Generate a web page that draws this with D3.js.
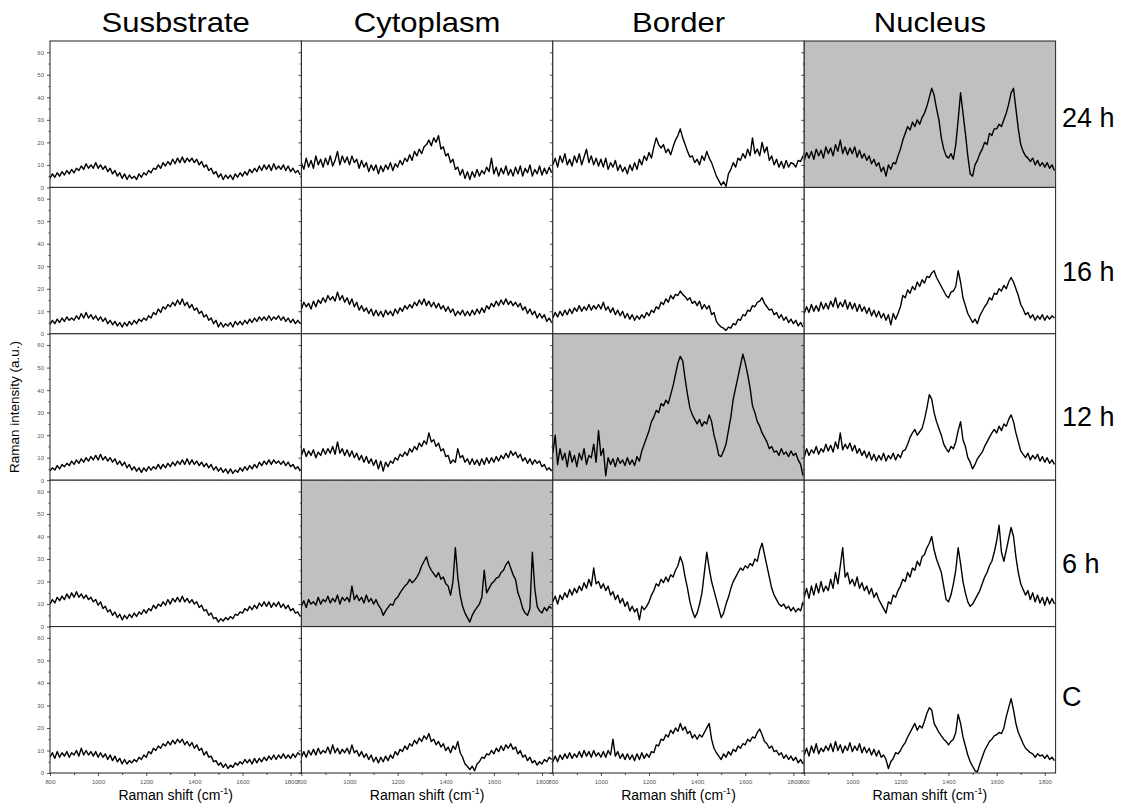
<!DOCTYPE html>
<html>
<head>
<meta charset="utf-8">
<script src="https://cdn.jsdelivr.net/npm/d3@7"></script>
<style>
  body { margin: 0; background: #fff; }
  svg { display: block; font-family: "Liberation Sans", Arial, sans-serif; }
</style>
</head>
<body>
<svg id="chart" width="1129" height="808"></svg>
<script>
// Raman spectra, sampled every 10 cm-1 from 800 to 1840 cm-1 (105 points each)
const shiftStart = 800;
const shiftStep = 10;

const columns = ["Susbstrate", "Cytoplasm", "Border", "Nucleus"];
const rows = ["24 h", "16 h", "12 h", "6 h", "C"];
const yTicks = [0, 10, 20, 30, 40, 50, 60];
const yMinorTicks = [5, 15, 25, 35, 45, 55];
const xTicks = [800, 1000, 1200, 1400, 1600, 1800];
const xMinorTicks = [900, 1100, 1300, 1500, 1700];
const highlighted = [["24 h", "Nucleus"], ["12 h", "Border"], ["6 h", "Cytoplasm"]];

// ---- 24 h ----
const substrate24 = [
  4, 6, 4.5, 6.5, 5, 7, 5.5, 7.5, 6, 8,
  6.5, 8.5, 7.5, 9.5, 8, 10.5, 8.5, 10, 8.5, 11,
  8.5, 10, 8, 9.5, 7, 8.5, 6, 7.5, 5, 6.5,
  4, 6, 3.5, 5.5, 4, 5, 3.5, 6, 4.5, 6.5,
  5.5, 7.5, 6.5, 8.5, 8, 10, 8.5, 11, 9.5, 11.5,
  10, 12.5, 10.5, 13, 11, 13.5, 11, 13, 11.5, 13,
  11, 12.5, 10, 11.5, 9, 10, 7.5, 8.5, 6, 7,
  4.5, 6, 3.5, 5.5, 4, 5.5, 3.5, 6, 4.5, 6.5,
  5, 7, 5.5, 8, 6.5, 8.5, 7, 9.5, 7.5, 10,
  8, 10, 7.5, 10.5, 8, 9.5, 8, 10, 7.5, 9.5,
  7, 8.5, 6.5, 7.5, 5.5
];
const cytoplasm24 = [
  11, 8, 13, 9, 12, 8.5, 14, 10, 12.5, 9,
  13, 10, 14, 9.5, 12, 16, 10, 14, 11, 13.5,
  10, 14, 11, 12.5, 8.5, 12, 9, 11, 7, 10,
  7.5, 10, 6, 9.5, 7, 10, 8, 11, 7.5, 10.5,
  9, 12, 10, 13, 11.5, 14.5, 12, 16, 14, 17,
  15, 18, 19, 21, 18.5, 22, 20, 23, 17, 18,
  14, 15, 11, 12.5, 8, 9, 5.5, 8, 4, 7,
  3.5, 7, 4.5, 8, 5, 7.5, 6, 9, 7, 13,
  6, 9, 5, 8.5, 6, 9.5, 5.5, 8, 5, 9,
  6, 9.5, 5, 8.5, 6.5, 10, 5, 8, 6, 9.5,
  5.5, 8.5, 6, 9, 6.5
];
const border24 = [
  10, 13, 9, 14, 11, 15, 10, 12.5, 9.5, 14,
  11, 15, 10, 13.5, 17, 11, 14, 10, 13, 9.5,
  12.5, 9, 13, 8, 11, 9, 12, 7.5, 10, 7,
  9, 6, 10, 7.5, 11, 8, 12.5, 10, 14, 12,
  15.5, 13, 18, 22, 19, 17.5, 19, 15.5, 17, 14.5,
  18, 21, 23, 26, 22, 19, 16, 13.5, 14, 11,
  12.5, 10, 14, 12, 16, 13, 11, 8, 5, 3,
  1, 2.5, 0.5, 6, 8, 11, 9, 13, 12, 15,
  13, 17, 14, 22, 15, 17, 14, 20, 15.5, 18,
  12, 14, 10, 12.5, 9, 11.5, 8.5, 12, 9, 11,
  10.5, 9, 12, 11.5, 14
];
const nucleus24 = [
  12, 15.5, 13, 16, 12.5, 17, 14, 16.5, 13, 18,
  15, 17.5, 14, 19, 16, 21, 15, 18, 14.5, 17.5,
  15, 18, 13.5, 16.5, 13, 15, 12, 14, 10.5, 12.5,
  9.5, 11, 7, 9, 5, 10, 8, 11, 10.5, 14,
  17, 21, 24, 27, 25.5, 29, 27, 30, 28, 31,
  33, 36, 40, 44, 41, 35, 30, 22, 17, 14,
  13, 15, 12.5, 19, 30, 42, 33, 24, 14, 6,
  5, 10, 12, 15, 17, 20, 19, 24, 23, 26,
  26, 28, 27, 30, 33, 37, 42, 44, 35, 26,
  19, 16, 14, 13, 11.5, 13, 10, 12, 9.5, 11,
  9, 11, 8.5, 10, 7.5
];

// ---- 16 h ----
const substrate16 = [
  4, 6, 4.5, 6.5, 5, 7, 5.5, 7.5, 6, 7,
  6, 8, 6.5, 9, 7, 9.5, 7, 8.5, 6.5, 8,
  6, 7.5, 5.5, 7, 4.5, 6, 4, 5.5, 3.5, 5,
  3, 5, 3.5, 5.5, 4, 6, 4.5, 6.5, 5.5, 7,
  6, 8, 7, 9.5, 8.5, 11, 9.5, 12, 11, 13,
  12, 14, 12.5, 15, 13, 15.5, 12.5, 14, 11.5, 13,
  10.5, 11.5, 9, 10, 7.5, 8.5, 6, 7, 4.5, 6,
  3, 5, 3, 4.5, 3.5, 5, 3, 5.5, 4, 5.5,
  4, 6, 4.5, 6.5, 5, 7, 5.5, 7.5, 6, 7.5,
  6, 8, 6, 7.5, 6.5, 8, 6, 7.5, 5.5, 7,
  5, 6.5, 4.5, 6, 4.5
];
const cytoplasm16 = [
  11, 14, 12, 13.5, 11, 14.5, 12, 15, 13.5, 16,
  14, 17, 15, 16.5, 14.5, 18.5, 15, 17, 14, 16,
  13, 15.5, 12, 14, 10.5, 12.5, 10, 11.5, 9, 11,
  8, 10.5, 8, 10, 7.5, 10.5, 8.5, 10, 8, 11,
  9, 11.5, 10, 12.5, 11, 13, 11.5, 14, 12.5, 15,
  13, 15.5, 12.5, 14.5, 12, 14, 11.5, 13.5, 11, 12.5,
  10, 12, 9.5, 11, 8, 10, 8.5, 10.5, 8, 10,
  8, 10.5, 8.5, 11, 9, 11.5, 9.5, 12.5, 11, 13.5,
  12, 14.5, 12.5, 15, 13, 15.5, 13, 14.5, 12.5, 14,
  12, 13.5, 10.5, 12, 9, 11, 8.5, 10, 7, 9,
  7, 8.5, 5.5, 7, 5
];
const border16 = [
  7, 9.5, 7.5, 10, 8, 10.5, 8.5, 11, 9, 11.5,
  10, 12.5, 10, 12, 10.5, 13, 10.5, 12.5, 11, 13,
  11, 14, 10.5, 12, 9.5, 11.5, 8.5, 10.5, 8, 10,
  7, 9, 6.5, 8.5, 6, 8, 6.5, 8.5, 7, 9.5,
  8, 10.5, 9.5, 12, 11, 14, 13, 15.5, 14, 17,
  15.5, 17.5, 17, 19, 17.5, 16.5, 15, 16, 13.5, 14.5,
  12.5, 14.5, 11, 13, 11, 12.5, 8.5, 9.5, 5.5, 4,
  3, 2.5, 1.5, 3, 2.5, 4.5, 4, 6.5, 6, 8.5,
  8, 10.5, 10, 12.5, 12, 14, 14.5, 16, 13.5, 12,
  10.5, 11, 8.5, 9.5, 7, 8.5, 6, 7.5, 5, 6.5,
  4.5, 6, 3.5, 5, 3
];
const nucleus16 = [
  9, 12, 9.5, 13, 10, 12.5, 10, 14, 11, 13.5,
  11, 14.5, 12, 16, 11.5, 14, 12, 15, 11, 14,
  11, 13.5, 10, 13, 10, 12, 9, 11.5, 8, 10.5,
  7.5, 10, 7, 9, 6, 8.5, 4, 9, 6.5, 9,
  12, 17, 16, 19.5, 18, 21, 19.5, 23, 21, 24,
  22.5, 25.5, 25, 27, 28, 25, 23, 21, 19, 17,
  16, 18.5, 19, 21, 28, 23, 16, 12.5, 9, 7,
  5, 6.5, 4.5, 8, 10, 12, 13.5, 16, 15, 18,
  17.5, 20, 19, 21.5, 20, 23, 25, 23, 20, 17,
  13, 11, 8.5, 9.5, 7, 8.5, 6, 8, 6.5, 8.5,
  6, 8, 6.5, 8, 7
];

// ---- 12 h ----
const substrate12 = [
  4, 5.5, 4.5, 6.5, 5, 7, 6, 7.5, 6.5, 8.5,
  7, 9, 7.5, 9.5, 8, 10, 8.5, 10.5, 9, 11,
  9, 11.5, 9, 10.5, 8.5, 10, 8, 9.5, 7, 8.5,
  6.5, 8, 5.5, 7, 4.5, 6, 4, 5.5, 3.5, 5.5,
  4, 6, 4.5, 6, 5, 7, 5, 7, 5.5, 7.5,
  6, 8, 6.5, 8.5, 7, 9, 7, 9.5, 7, 9,
  7, 8.5, 6.5, 8, 6, 7.5, 5.5, 7, 4.5, 6,
  4, 5.5, 3.5, 5, 3, 5, 3, 4.5, 3.5, 5.5,
  4, 6, 4.5, 6.5, 5, 7, 5.5, 8, 6.5, 8.5,
  7, 9, 7, 9, 7.5, 8.5, 7, 8.5, 6.5, 8,
  6, 7, 5, 6, 4
];
const cytoplasm12 = [
  11, 14, 10.5, 13, 11, 13.5, 10, 12.5, 11, 14,
  11.5, 14, 12, 15, 11.5, 17, 12, 14, 11, 13.5,
  10.5, 13, 10, 12, 9, 11, 8, 10.5, 7.5, 9.5,
  6.5, 9, 5, 8.5, 4, 8, 6, 8.5, 7.5, 10,
  9, 11.5, 10.5, 12.5, 11, 14, 12.5, 15, 13.5, 16.5,
  15, 17.5, 16, 21, 17, 18, 15, 16.5, 13, 14,
  10.5, 11, 7.5, 9, 8, 14, 10, 11, 8, 9.5,
  7, 9.5, 7, 9, 6.5, 9.5, 7, 10, 7.5, 10,
  8, 10.5, 8.5, 11, 9.5, 12, 10, 13, 11, 12.5,
  10, 11.5, 8.5, 10, 7.5, 9.5, 7, 9, 7.5, 8.5,
  6, 7, 4.5, 5.5, 4
];
const border12 = [
  12, 20, 7, 14, 9, 12, 6, 13, 8, 11,
  6, 12, 9, 14, 7, 11, 10, 16, 8, 22,
  11, 14, 2, 10, 7, 9.5, 6, 10, 7.5, 9,
  6.5, 10, 7, 9, 6.5, 10.5, 8.5, 13, 16, 19,
  22, 26, 28, 31, 30, 34, 33, 35.5, 34, 38,
  42, 47, 52, 55, 53, 45, 38, 32, 29, 27,
  25, 27, 24, 26, 25, 29, 26, 20, 16, 11,
  10.5, 13, 16, 22, 28, 36, 41, 46, 51, 56,
  52, 47, 41, 33, 30, 26, 24, 21, 19, 17,
  14, 15, 12.5, 13, 11, 14, 11.5, 12.5, 10.5, 13,
  11, 12, 9, 7, 2
];
const nucleus12 = [
  10, 14, 11, 13.5, 12, 15, 11.5, 14, 12.5, 16,
  13, 15.5, 12.5, 17, 14, 21, 13.5, 16, 14, 16.5,
  13, 15.5, 12, 14, 11, 13, 10, 12.5, 9, 11.5,
  8.5, 11, 9, 12, 8.5, 11, 9.5, 12, 9, 11.5,
  10, 13, 13.5, 16, 19, 21, 22.5, 20, 21.5, 23,
  27, 32, 38, 36, 30, 26, 23, 20, 16, 14,
  12.5, 15, 14, 17, 22, 26, 18, 15, 10, 8,
  5, 7, 9.5, 11, 12.5, 15, 17, 19, 21, 22.5,
  21, 24, 22, 25, 24, 27, 29, 26, 21, 17,
  13, 11.5, 10, 12, 9, 11, 9.5, 11.5, 8.5, 10.5,
  8, 10, 7.5, 9, 7
];

// ---- 6 h ----
const substrate6 = [
  10, 12, 10.5, 13, 11.5, 13.5, 12, 14.5, 12.5, 15,
  13, 15.5, 13, 14.5, 12.5, 14, 12, 13, 11, 12,
  9.5, 11, 8, 9, 6.5, 7.5, 5, 6.5, 4, 5.5,
  3, 5, 3.5, 5.5, 4, 6, 4.5, 6.5, 5.5, 7.5,
  6, 8, 7, 9.5, 8, 10, 9, 11, 9.5, 12,
  10, 12.5, 11, 13, 11, 13.5, 11, 12.5, 10.5, 12,
  10, 11, 8.5, 9.5, 7, 7.5, 5, 6, 3.5, 4,
  2, 3.5, 2.5, 4, 3, 4.5, 3.5, 5.5, 5, 6.5,
  6, 8, 7, 9, 7.5, 9.5, 8, 10.5, 9, 11,
  9, 11, 8.5, 10.5, 9, 11, 8.5, 10, 8, 9.5,
  7, 8, 6, 6.5, 4.5
];
const cytoplasm6 = [
  9, 11.5, 8.5, 12, 10, 11, 9.5, 13, 10, 12,
  11, 13.5, 10.5, 12.5, 11, 14, 10, 13, 11.5, 13,
  11, 18, 12, 14, 11.5, 13, 10.5, 14, 11, 12.5,
  10, 12, 9.5, 8, 5, 7, 8.5, 10, 9.5, 12,
  13, 15, 16.5, 18, 19, 21, 19.5, 20.5, 22, 24,
  27, 29, 31, 27, 25, 23.5, 22, 24, 21, 22,
  19, 18, 14, 20, 35, 22, 14, 9, 6, 4,
  2, 5, 7, 8.5, 10, 13, 25, 15, 17, 19,
  20, 21.5, 22, 24, 25, 27.5, 29, 26, 23, 21,
  15, 12, 8, 6, 5, 8, 33, 17, 9, 7,
  6, 8.5, 7, 9, 8
];
const border6 = [
  11, 13.5, 10, 14, 12, 15, 13, 16.5, 14, 17,
  15, 18, 16, 19.5, 17, 21, 18, 26, 19, 20,
  17, 19, 16, 18, 14, 15.5, 12, 14, 10.5, 12.5,
  9, 11, 7, 9, 6.5, 8, 3, 9, 7.5, 9,
  11, 14, 16, 19, 18, 21, 19.5, 22, 20, 23,
  22, 25, 27, 31, 28, 22, 17, 11, 7, 4,
  6, 10, 15, 24, 33, 26, 20, 16, 12, 8,
  4, 6, 10, 13, 17, 20, 22, 24, 26, 25,
  27, 26, 28, 27, 30, 29, 34, 37, 32, 27,
  22, 17, 14, 12, 10, 9, 10, 8, 9, 7,
  8.5, 6.5, 8, 7, 11
];
const nucleus6 = [
  13, 17, 12.5, 18, 14, 19, 15, 20, 15.5, 18,
  16, 21, 17, 24, 19, 27, 35, 22, 24, 19,
  21, 18, 22, 17, 19.5, 16, 18, 14.5, 17, 13,
  15, 12, 10, 8, 6, 11, 10, 14, 13, 16,
  18, 21, 20, 24, 22, 26, 25, 29, 27, 31,
  32, 35, 37, 40, 34, 30, 27, 24, 18, 12,
  11, 14, 19, 25, 35, 28, 20, 15, 11, 9,
  10, 12, 14, 16, 19, 22, 24, 27, 29, 33,
  38, 45, 33, 29, 34, 39, 44, 40, 31, 24,
  19, 16.5, 14, 16, 12, 15, 11, 14, 10.5, 13,
  9.5, 13, 10, 12.5, 10
];

// ---- Control ----
const substrateC = [
  7, 9, 6.5, 9.5, 7, 9, 7.5, 9.5, 7, 9,
  8, 10, 7.5, 11, 8, 10, 8, 9.5, 7.5, 9.5,
  7, 9, 7, 8.5, 6, 8, 5.5, 7.5, 5, 6.5,
  4, 6, 4, 5.5, 4.5, 6, 5, 7, 6, 8,
  7, 9.5, 8.5, 11, 10, 12, 11, 13, 12, 14,
  12.5, 14.5, 13, 15, 13.5, 15, 12.5, 14, 12, 13.5,
  11, 12.5, 10, 11, 8, 9.5, 7, 7.5, 5, 5.5,
  3.5, 4.5, 2.5, 4, 2, 3.5, 2.5, 4.5, 3.5, 5,
  4, 6, 4.5, 6, 4, 6.5, 4.5, 6.5, 5, 7,
  5.5, 7.5, 6, 8, 6, 8, 6.5, 8.5, 6.5, 8,
  6.5, 8.5, 7, 9, 8
];
const cytoplasmC = [
  7, 9.5, 7, 10, 8, 10.5, 8, 11, 8.5, 10,
  9, 11.5, 8.5, 12.5, 9, 11, 8.5, 10.5, 9, 11,
  8.5, 12.5, 9, 10, 7.5, 9.5, 7, 8.5, 6, 8,
  5, 7, 4.5, 7, 5, 7.5, 5.5, 8, 6.5, 9.5,
  8, 10.5, 9.5, 12, 10.5, 13, 12, 14.5, 13, 15.5,
  14, 16.5, 15, 17.5, 14, 15, 12.5, 14, 11.5, 13,
  10, 11.5, 9, 12, 10.5, 14, 9, 7, 4, 3,
  1.5, 3, 1, 4, 5, 7, 6.5, 8.5, 8, 10,
  8.5, 11, 9.5, 12, 10, 12.5, 11, 13, 10.5, 11.5,
  8.5, 10, 7, 8, 5.5, 7, 4.5, 5.5, 3.5, 5,
  4, 6, 5, 7, 6
];
const borderC = [
  5, 7.5, 5, 8, 6, 8.5, 6.5, 9, 6.5, 8.5,
  7, 9.5, 7, 10, 7.5, 9.5, 7, 10, 7.5, 9,
  7, 9.5, 7, 10, 8, 15, 7.5, 9.5, 6.5, 8.5,
  6, 8.5, 6, 8, 5.5, 8.5, 6, 9, 6.5, 8.5,
  7, 9.5, 9, 12.5, 12, 15, 14.5, 17, 16, 19,
  17.5, 20, 18.5, 22, 19, 20.5, 17.5, 18.5, 15.5, 17,
  15, 17, 16, 18, 20, 22, 15, 11, 9, 7.5,
  6, 8.5, 7, 9.5, 8, 10.5, 9.5, 12, 11, 13,
  12.5, 15, 14, 16, 15.5, 18, 19.5, 17, 14, 13,
  11, 12, 9.5, 10, 8, 9, 6.5, 8, 6, 7.5,
  5.5, 7, 4.5, 6, 4
];
const nucleusC = [
  8, 11, 7.5, 12, 9, 13, 8.5, 11, 9.5, 12,
  10, 13, 9.5, 14, 10, 12.5, 9, 12, 10, 13.5,
  9.5, 12, 10, 13, 9, 11.5, 9, 11, 8, 10.5,
  7.5, 10, 7, 8, 6, 2, 5, 6.5, 9, 8.5,
  10, 12, 13.5, 16, 18, 20, 22, 19, 21, 20,
  23, 26.5, 29, 28, 22, 20, 18, 16.5, 15, 14,
  12.5, 14, 15, 18, 26, 22, 16, 12, 8, 5,
  3, 1, 0.5, 4, 7, 10, 12, 14, 15, 16.5,
  17, 18, 17.5, 20, 25, 29, 33, 28, 22, 18,
  15.5, 13, 11, 10, 9, 8.5, 7, 8.5, 7.5, 8,
  6.5, 8, 6, 7, 5.5
];

// Grid of spectra: one row per incubation time, one column per cell region
const spectraGrid = [
  [substrate24, cytoplasm24, border24, nucleus24],
  [substrate16, cytoplasm16, border16, nucleus16],
  [substrate12, cytoplasm12, border12, nucleus12],
  [substrate6, cytoplasm6, border6, nucleus6],
  [substrateC, cytoplasmC, borderC, nucleusC]
];

// ---- Layout ----
const svg = d3.select("#chart");
const marginLeft = 50, marginTop = 41;
const panelW = 251.4, panelH = 146.4;
const xDomain = [800, 1845];
const yDomain = [0, 65];

const x = d3.scaleLinear().domain(xDomain).range([0, panelW]);
const y = d3.scaleLinear().domain(yDomain).range([panelH, 0]);

const line = d3.line()
  .x((d, i) => x(shiftStart + i * shiftStep))
  .y(d => y(d));

const isHighlighted = (r, c) =>
  highlighted.some(([rn, cn]) => rn === rows[r] && cn === columns[c]);

svg.append("defs").append("clipPath").attr("id", "panelClip")
  .append("rect").attr("width", panelW).attr("height", panelH);

rows.forEach((rowName, r) => {
  columns.forEach((colName, c) => {
    const g = svg.append("g")
      .attr("transform", `translate(${marginLeft + c * panelW},${marginTop + r * panelH})`);

    g.append("rect")
      .attr("width", panelW).attr("height", panelH)
      .attr("fill", isHighlighted(r, c) ? "#c0c0c0" : "#ffffff");

    g.append("path")
      .datum(spectraGrid[r][c])
      .attr("clip-path", "url(#panelClip)")
      .attr("d", line)
      .attr("fill", "none")
      .attr("stroke", "#000")
      .attr("stroke-width", 1.4)
      .attr("stroke-linejoin", "round");

    // y axis (labels only on the first column)
    const yAxis = g.append("g")
      .call(d3.axisLeft(y).tickValues(yTicks).tickSize(3)
        .tickFormat(c === 0 ? d3.format("d") : () => ""));
    g.append("g")
      .call(d3.axisLeft(y).tickValues(yMinorTicks).tickSize(1.5).tickFormat(() => ""))
      .select(".domain").remove();

    // x axis (labels only on the bottom row)
    const xAxis = g.append("g")
      .attr("transform", `translate(0,${panelH})`)
      .call(d3.axisBottom(x).tickValues(xTicks).tickSize(3)
        .tickFormat(r === rows.length - 1 ? d3.format("d") : () => ""));
    g.append("g")
      .attr("transform", `translate(0,${panelH})`)
      .call(d3.axisBottom(x).tickValues(xMinorTicks).tickSize(2).tickFormat(() => ""))
      .select(".domain").remove();

    [yAxis, xAxis].forEach(a => {
      a.select(".domain").remove();
      a.selectAll("text").attr("font-size", 6).attr("fill", "#555")
        .attr("font-family", "Liberation Sans, Arial, sans-serif");
    });
    xAxis.selectAll("text").attr("dy", "0.9em");
    g.selectAll(".tick line").attr("stroke", "#222").attr("stroke-width", 0.8);

    g.append("rect")
      .attr("width", panelW).attr("height", panelH)
      .attr("fill", "none").attr("stroke", "#222").attr("stroke-width", 1);
  });
});

// Column titles
columns.forEach((name, c) => {
  svg.append("text")
    .attr("transform", `translate(${marginLeft + c * panelW + panelW / 2},32) scale(1.15,1)`)
    .attr("text-anchor", "middle")
    .attr("font-size", 27)
    .attr("fill", "#000")
    .text(name);
});

// Row labels
const rowLabelY = [127, 281, 426, 573, 706];
rows.forEach((name, r) => {
  svg.append("text")
    .attr("x", 1062).attr("y", rowLabelY[r])
    .attr("font-size", 27)
    .attr("fill", "#000")
    .text(name);
});

// Axis titles
svg.append("text")
  .attr("transform", `translate(19,${marginTop + panelH * 2.5}) rotate(-90)`)
  .attr("text-anchor", "middle")
  .attr("font-size", 13.5)
  .attr("fill", "#000")
  .text("Raman intensity (a.u.)");

columns.forEach((name, c) => {
  const t = svg.append("text")
    .attr("x", marginLeft + c * panelW + panelW / 2)
    .attr("y", 800)
    .attr("text-anchor", "middle")
    .attr("font-size", 14)
    .attr("fill", "#000");
  t.append("tspan").text("Raman shift (cm");
  t.append("tspan").attr("font-size", 9).attr("dy", -6).text("-1");
  t.append("tspan").attr("dy", 6).text(")");
});
</script>
</body>
</html>
